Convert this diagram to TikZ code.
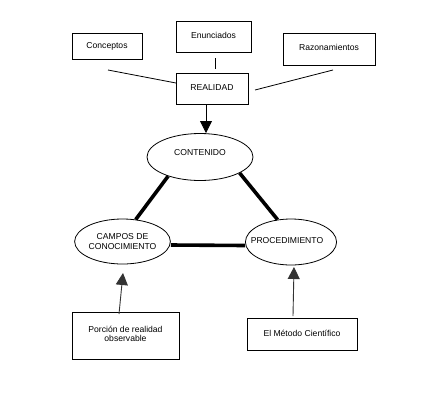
\documentclass[tikz,border=0pt]{standalone}
\usepackage{fontspec}
\setmainfont{Liberation Sans}
\usetikzlibrary{shapes.geometric,arrows.meta}
\begin{document}
\begin{tikzpicture}[x=1pt,y=-1pt,
  box/.style={draw,line width=0.8pt,rectangle,inner sep=0pt,align=center,font=\fontsize{8.6}{10.5}\selectfont},
  oval/.style={draw,line width=0.8pt,ellipse,inner sep=0pt,align=center,font=\fontsize{8.6}{10.5}\selectfont},
  thin/.style={line width=0.8pt},
  thick/.style={line width=3.6pt},
  up/.style={line width=0.9pt,draw=black!80,-{Triangle[width=12pt,length=12pt]}}]
\useasboundingbox (0,0) rectangle (439,400);
\fill[white] (0,0) rectangle (439,400);
% boxes
\node[box,minimum width=70,minimum height=26] (conceptos) at (107,46) {Conceptos};
\node[box,minimum width=75,minimum height=31] (enunciados) at (213.5,36.5) {\raisebox{3pt}{Enunciados}};
\node[box,minimum width=92,minimum height=32] (razon) at (329,49) {\raisebox{4pt}{Razonamientos}};
\node[box,minimum width=72,minimum height=31] (realidad) at (212,88.5) {\raisebox{2pt}{REALIDAD}};
% ellipses
\node[oval,minimum width=106,minimum height=47] (contenido) at (200,157) {\raisebox{9pt}{CONTENIDO}};
\node[oval,minimum width=95,minimum height=45] (campos) at (122.5,241.5) {CAMPOS DE\\CONOCIMIENTO};
\node[oval,minimum width=90,minimum height=46] (proc) at (291,242) {\hspace*{-8pt}\raisebox{4pt}{PROCEDIMIENTO}};
% bottom boxes
\node[box,minimum width=107,minimum height=47] (porcion) at (125.5,335.5) {\raisebox{4pt}{\shortstack{Porción de realidad\\observable}}};
\node[box,minimum width=110,minimum height=32] (metodo) at (302,334) {\raisebox{2pt}{El Método Científico}};
% free ends
\coordinate (c1) at (108,70);
\coordinate (c2) at (176,83);
\coordinate (r1) at (333,70);
\coordinate (r2) at (255,90);
\coordinate (e1) at (215,58);
\coordinate (e2) at (215,69);
\coordinate (t1) at (206,133);
\coordinate (t2) at (123,273);
\coordinate (b2) at (119,314);
\coordinate (t3) at (294,267);
\coordinate (b3) at (293,316);
% connectors
\draw[thin] (c1) -- (c2);
\draw[thin] (r1) -- (r2);
\draw[thin] (e1) -- (e2);
\draw[thin,-{Triangle[width=12pt,length=12pt]}] ([xshift=-6pt]realidad.south) -- (t1);
\draw[thick] (contenido.211) -- (campos.59);
\draw[thick] (contenido.338) -- (proc.121);
\draw[thick] ([yshift=-3.5pt]campos.east) -- ([yshift=-3.5pt]proc.west);
\draw[up] (b2) -- (t2);
\draw[up] (b3) -- (t3);
\end{tikzpicture}
\end{document}
